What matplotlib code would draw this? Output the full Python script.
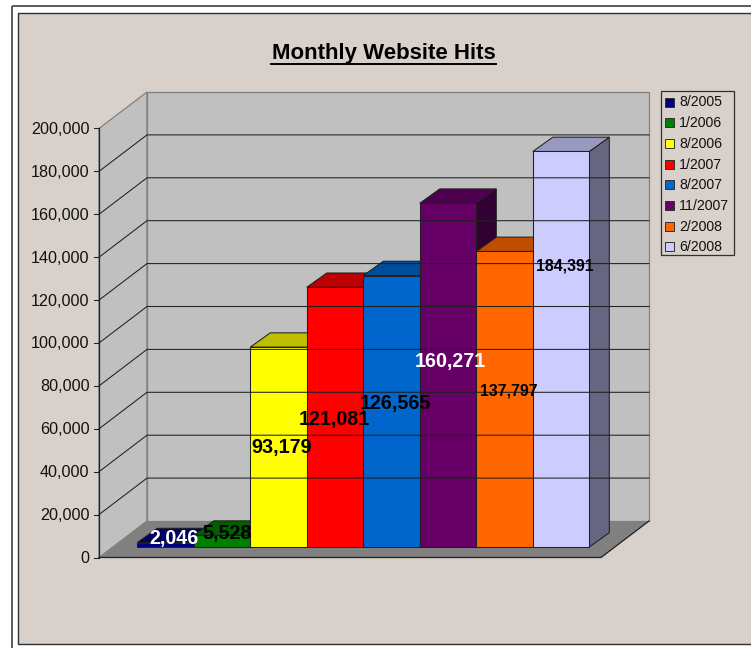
import matplotlib
matplotlib.use("Agg")
import matplotlib.pyplot as plt
from matplotlib.patches import Polygon, Rectangle

plt.rcParams['font.family'] = ['Liberation Sans', 'DejaVu Sans']

# data
months = ['8/2005', '1/2006', '8/2006', '1/2007', '8/2007', '11/2007', '2/2008', '6/2008']
hits = [2046, 5528, 93179, 121081, 126565, 160271, 137797, 184391]
tick_values = list(range(0, 200001, 20000))

# colors for front / top / side of each bar
front_colors = ['#000080', '#008000', '#FFFF00', '#FF0000', '#0066CC', '#660066', '#FF6600', '#CCCCFF']
top_colors = ['#000060', '#006000', '#BFBF00', '#BF0000', '#004D99', '#4D004D', '#BF4D00', '#9999BF']
side_colors = ['#000040', '#004000', '#808000', '#800000', '#003366', '#330033', '#803300', '#666680']

panel_color = '#D8D0CA'
wall_color = '#C0C0C0'
floor_color = '#808080'

W, H = 751, 648
fig = plt.figure(figsize=(W / 100, H / 100), dpi=100, facecolor='white')
ax = fig.add_axes([0, 0, 1, 1])
ax.set_xlim(0, W)
ax.set_ylim(H, 0)
ax.axis('off')

# chart geometry in pixels
x0, x1 = 99, 601
y0 = 557.5
scale = 429.0 / 200000
dx, dy = 48, -36.5
bar_left = 137.3
bar_w = 56.5
bar_base = 547
bar_dx, bar_dy = 20, -14.3


def to_y(v):
    return y0 - v * scale


# frames
ax.add_patch(Rectangle((11.5, 5.5), W, H, fill=False, ec='#404040', lw=1.2))
ax.add_patch(Rectangle((17.5, 12.5), W, 631.5, fc=panel_color, ec='#303030', lw=1))

# walls and floor
top = to_y(200000)
ax.add_patch(Polygon([(x0, y0), (x0 + dx, y0 + dy), (x0 + dx, top + dy), (x0, top)],
                     fc=wall_color, ec='#808080', lw=0.9))
ax.add_patch(Rectangle((x0 + dx, top + dy), x1 - x0, y0 - top, fc=wall_color, ec='#808080', lw=0.9))
ax.add_patch(Polygon([(x0, y0), (x1, y0), (x1 + dx, y0 + dy), (x0 + dx, y0 + dy)],
                     fc=floor_color, ec='none'))
ax.plot([x0, x1, x1 + dx], [y0, y0, y0 + dy], color='#202020', lw=0.9)

# gridlines and ticks
for v in tick_values:
    y = to_y(v)
    if 0 < v < 200000:
        ax.plot([x0, x0 + dx, x1 + dx], [y, y + dy, y + dy], color='#202020', lw=0.75)
    ax.plot([x0 - 5, x0], [y, y], color='#202020', lw=0.75)
    ax.text(x0 - 9.5, y + 1, f'{v:,}', ha='right', va='center', fontsize=11.6, color='#111111')
ax.plot([x0, x0], [y0, top], color='#202020', lw=0.9)

# bars
for i, v in enumerate(hits):
    l = bar_left + i * bar_w
    r = l + bar_w
    t = bar_base - v * scale
    ax.add_patch(Polygon([(r, bar_base), (r + bar_dx, bar_base + bar_dy), (r + bar_dx, t + bar_dy), (r, t)],
                         fc=side_colors[i], ec='#202020', lw=0.75))
    ax.add_patch(Polygon([(l, t), (r, t), (r + bar_dx, t + bar_dy), (l + bar_dx, t + bar_dy)],
                         fc=top_colors[i], ec='#202020', lw=0.75))
    ax.add_patch(Rectangle((l, t), bar_w, bar_base - t, fc=front_colors[i], ec='#202020', lw=0.75))

# value labels, placed by hand like the original
label_spots = [(173.5, 538.5), (227, 534), (281.5, 447), (334.5, 420), (395, 404), (450.5, 362), (508.5, 391), (565, 266)]
label_colors = ['white', 'black', 'black', 'black', 'black', 'white', 'black', 'black']
label_sizes = [14.2, 14.2, 14.2, 14.2, 14.2, 14.2, 11.4, 11.4]
for i, v in enumerate(hits):
    ax.text(label_spots[i][0], label_spots[i][1], f'{v:,}', ha='center', va='center',
            fontsize=label_sizes[i], fontweight='bold', color=label_colors[i])

# title
ax.text(383.5, 53.5, 'Monthly Website Hits', ha='center', va='center', fontsize=16,
        fontweight='bold', color='black')
ax.plot([271, 496], [64, 64], color='black', lw=1.4)

# legend
ax.add_patch(Rectangle((660.5, 90.5), 73.5, 164.5, fc=panel_color, ec='#303030', lw=0.9))
for i, m in enumerate(months):
    y = 102 + i * 20.7
    ax.add_patch(Rectangle((665, y - 4.5), 9, 9, fc=front_colors[i], ec='#303030', lw=0.7))
    ax.text(679, y + 0.5, m, ha='left', va='center', fontsize=10.2, color='#111111')

fig.savefig('out.png', dpi=100, facecolor='white')
